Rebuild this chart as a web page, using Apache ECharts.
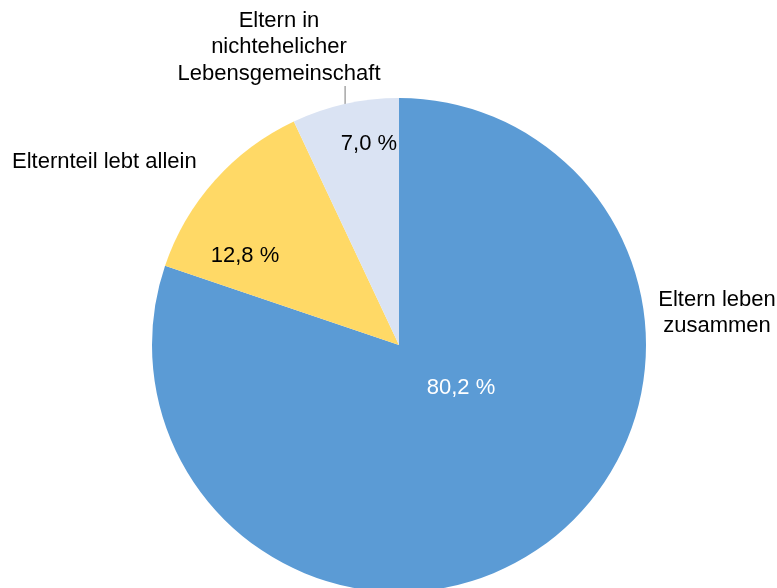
<!DOCTYPE html>
<html>
<head>
<meta charset="utf-8">
<script src="https://cdn.jsdelivr.net/npm/echarts@6/dist/echarts.min.js"></script>
<style>
  html, body { margin: 0; padding: 0; background: #fff; }
  #chart { width: 777px; height: 588px; }
</style>
</head>
<body>
<div id="chart"></div>
<script>
// Familienformen: Anteil in Prozent
const categories = ['Eltern leben\nzusammen', 'Elternteil lebt allein', 'Eltern in\nnichtehelicher\nLebensgemeinschaft'];
const shares = [80.2, 12.8, 7.0];
const colors = ['#5B9BD5', '#FFD966', '#DAE3F3'];
const valueLabelColors = ['#FFFFFF', '#000000', '#000000'];

// Pie geometry
const CX = 399, CY = 345, R = 247;

// Label placement (value labels inside, category labels outside)
const innerPos = [[461, 388], [245, 256], [369, 144]];
const outerPos = [
  { x: 717, y: 313, align: 'center' },
  { x: 12, y: 162, align: 'left' },
  { x: 279, y: 47, align: 'center' }
];
const leaderTop = 86;

const fmt = v => v.toFixed(1).replace('.', ',') + ' %';
const FONT = 'Liberation Sans, Arial, sans-serif';

// Point on the rim at the middle of slice i (clockwise from 12 o'clock)
function rimMid(i) {
  const total = shares.reduce((a, b) => a + b, 0);
  const before = shares.slice(0, i).reduce((a, b) => a + b, 0);
  const a = (before + shares[i] / 2) / total * 2 * Math.PI;
  return [CX + R * Math.sin(a), CY - R * Math.cos(a)];
}

const chart = echarts.init(document.getElementById('chart'), null, { renderer: 'canvas' });

const pieBase = {
  type: 'pie',
  center: [CX, CY],
  radius: R,
  startAngle: 90,
  clockwise: true,
  silent: true,
  animation: false,
  emphasis: { disabled: true }
};

chart.setOption({
  backgroundColor: '#ffffff',
  series: [
    Object.assign({}, pieBase, {
      name: 'Kategorien',
      data: categories.map((c, i) => ({
        name: c,
        value: shares[i],
        itemStyle: { color: 'rgba(0,0,0,0)' },
        labelLine: { show: i === 2 }
      })),
      label: {
        show: true,
        position: 'outside',
        formatter: p => p.name,
        color: '#000000',
        fontFamily: FONT,
        fontSize: 22,
        lineHeight: 26.5,
        align: 'center'
      },
      labelLine: {
        length: 6,
        length2: 0,
        lineStyle: { color: '#A6A6A6', width: 1.5 }
      },
      labelLayout: p => {
        const o = outerPos[p.dataIndex];
        const rim = rimMid(p.dataIndex);
        return {
          x: o.x,
          y: o.y,
          align: o.align,
          verticalAlign: 'middle',
          labelLinePoints: [rim, [rim[0], (rim[1] + leaderTop) / 2], [rim[0], leaderTop]]
        };
      }
    }),
    Object.assign({}, pieBase, {
      name: 'Anteile',
      data: shares.map((v, i) => ({
        name: categories[i],
        value: v,
        itemStyle: { color: colors[i] },
        label: { color: valueLabelColors[i] }
      })),
      itemStyle: { borderWidth: 0 },
      label: {
        show: true,
        position: 'inside',
        formatter: p => fmt(p.value),
        fontFamily: FONT,
        fontSize: 22
      },
      labelLine: { show: false },
      labelLayout: p => ({
        x: innerPos[p.dataIndex][0],
        y: innerPos[p.dataIndex][1],
        align: 'center',
        verticalAlign: 'middle'
      })
    })
  ]
});
</script>
</body>
</html>
